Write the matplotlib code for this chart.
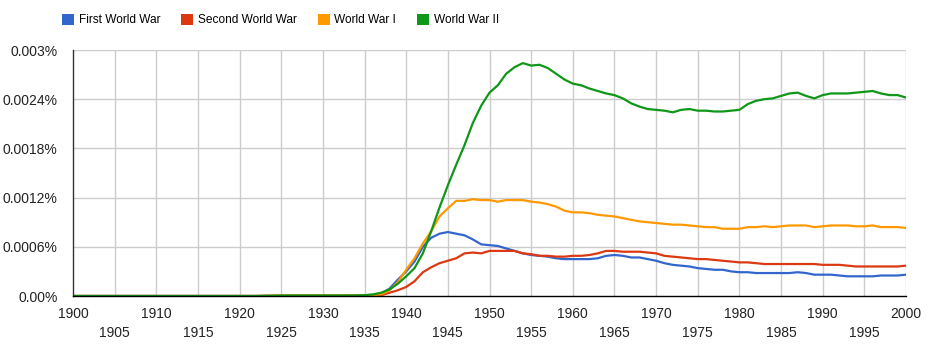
import numpy as np
import matplotlib
matplotlib.use("Agg")
import matplotlib.pyplot as plt
from matplotlib.patches import Patch

plt.rcParams['font.family'] = ['Liberation Sans', 'DejaVu Sans']

years = np.arange(1900, 2001)

series_names = ["First World War", "Second World War", "World War I", "World War II"]
series_colors = ["#3366cc", "#dc3912", "#ff9900", "#109618"]

first_world_war = [
    0, 0, 0, 0, 0, 0, 0, 0, 0, 0,
    0, 0, 0, 0, 0, 0, 0, 0, 0, 0,
    0, 0, 0, 0.000001, 0.000002, 0.000003, 0.000003, 0.000003, 0.000003, 0.000003,
    0.000004, 0.000004, 0.000004, 0.000004, 0.000004, 0.000005, 0.00001, 0.00003, 0.00009, 0.0002,
    0.0003, 0.00042, 0.0006, 0.00071, 0.00076, 0.00078, 0.00076, 0.00074, 0.00069, 0.00063,
    0.00062, 0.00061, 0.00058, 0.00055, 0.00052, 0.0005, 0.00049, 0.00048, 0.00046, 0.00045,
    0.00045, 0.00045, 0.00045, 0.00046, 0.00049, 0.0005, 0.00049, 0.00047, 0.00047, 0.00045,
    0.00043, 0.0004, 0.00038, 0.00037, 0.00036, 0.00034, 0.00033, 0.00032, 0.00032, 0.0003,
    0.00029, 0.00029, 0.00028, 0.00028, 0.00028, 0.00028, 0.00028, 0.00029, 0.00028, 0.00026,
    0.00026, 0.00026, 0.00025, 0.00024, 0.00024, 0.00024, 0.00024, 0.00025, 0.00025, 0.00025,
    0.00026,
]

second_world_war = [
    0, 0, 0, 0, 0, 0, 0, 0, 0, 0,
    0, 0, 0, 0, 0, 0, 0, 0, 0, 0,
    0, 0, 0, 0.000001, 0.000002, 0.000003, 0.000003, 0.000003, 0.000003, 0.000003,
    0.000003, 0.000003, 0.000003, 0.000003, 0.000003, 0.000004, 0.000005, 0.00001, 0.00004, 0.00007,
    0.00011, 0.00018, 0.00029, 0.00035, 0.0004, 0.00043, 0.00046, 0.00052, 0.00053, 0.00052,
    0.00055, 0.00055, 0.00055, 0.00055, 0.00052, 0.00051, 0.00049, 0.00049, 0.00048, 0.00048,
    0.00049, 0.00049, 0.0005, 0.00052, 0.00055, 0.00055, 0.00054, 0.00054, 0.00054, 0.00053,
    0.00052, 0.00049, 0.00048, 0.00047, 0.00046, 0.00045, 0.00045, 0.00044, 0.00043, 0.00042,
    0.00041, 0.00041, 0.0004, 0.00039, 0.00039, 0.00039, 0.00039, 0.00039, 0.00039, 0.00039,
    0.00038, 0.00038, 0.00038, 0.00037, 0.00036, 0.00036, 0.00036, 0.00036, 0.00036, 0.00036,
    0.00037,
]

world_war_i = [
    0, 0, 0, 0, 0, 0, 0, 0, 0, 0,
    0, 0, 0, 0, 0, 0, 0, 0, 0, 0,
    0, 0, 0, 0.000002, 0.000004, 0.000006, 0.000008, 0.000008, 0.000008, 0.000008,
    0.000008, 0.000008, 0.000008, 0.000008, 0.000008, 0.000008, 0.00001, 0.00002, 0.00007, 0.00017,
    0.00032, 0.00046, 0.00064, 0.00079, 0.00097, 0.00107, 0.00116, 0.00116, 0.00118, 0.00117,
    0.00117, 0.00115, 0.00117, 0.00117, 0.00117, 0.00115, 0.00114, 0.00112, 0.00109, 0.00104,
    0.00102, 0.00102, 0.00101, 0.00099, 0.00098, 0.00097, 0.00095, 0.00093, 0.00091, 0.0009,
    0.00089, 0.00088, 0.00087, 0.00087, 0.00086, 0.00085, 0.00084, 0.00084, 0.00082, 0.00082,
    0.00082, 0.00084, 0.00084, 0.00085, 0.00084, 0.00085, 0.00086, 0.00086, 0.00086, 0.00084,
    0.00085, 0.00086, 0.00086, 0.00086, 0.00085, 0.00085, 0.00086, 0.00084, 0.00084, 0.00084,
    0.00083,
]

world_war_ii = [
    0, 0, 0, 0, 0, 0, 0, 0, 0, 0,
    0, 0, 0, 0, 0, 0, 0, 0, 0, 0,
    0, 0, 0, 0.000002, 0.000003, 0.000005, 0.000006, 0.000006, 0.000006, 0.000006,
    0.000006, 0.000006, 0.000006, 0.000006, 0.000007, 0.00001, 0.00002, 0.00004, 0.00008, 0.00015,
    0.00024, 0.00034, 0.00052, 0.00079, 0.00108, 0.00135, 0.0016, 0.00184, 0.00211, 0.00232,
    0.00248, 0.00257, 0.00271, 0.00279, 0.00284, 0.00281, 0.00282, 0.00278, 0.00271, 0.00264,
    0.00259, 0.00257, 0.00253, 0.0025, 0.00247, 0.00245, 0.00241, 0.00235, 0.00231, 0.00228,
    0.00227, 0.00226, 0.00224, 0.00227, 0.00228, 0.00226, 0.00226, 0.00225, 0.00225, 0.00226,
    0.00227, 0.00234, 0.00238, 0.0024, 0.00241, 0.00244, 0.00247, 0.00248, 0.00244, 0.00241,
    0.00245, 0.00247, 0.00247, 0.00247, 0.00248, 0.00249, 0.0025, 0.00247, 0.00245, 0.00245,
    0.00242,
]

series_values = [first_world_war, second_world_war, world_war_i, world_war_ii]

y_ticks = [0, 0.0006, 0.0012, 0.0018, 0.0024, 0.003]
y_tick_labels = ["0.00%", "0.0006%", "0.0012%", "0.0018%", "0.0024%", "0.003%"]
x_major_ticks = list(range(1900, 2001, 10))
x_minor_ticks = list(range(1905, 2000, 10))

fig = plt.figure(figsize=(9.3, 3.48), dpi=100)
ax = fig.add_axes([73/930, 1-296/348, (906-73)/930, (296-50)/348])

for name, vals, col in zip(series_names, series_values, series_colors):
    ax.plot(years, vals, color=col, lw=1.6, solid_joinstyle='round', zorder=3)

ax.set_xlim(1900, 2000)
ax.set_ylim(0, 0.003)

# grid
for x in range(1905, 2001, 5):
    ax.axvline(x, color='#cccccc', lw=1, zorder=1)
for y in y_ticks[1:]:
    ax.axhline(y, color='#cccccc', lw=1, zorder=1)

for s in ['top', 'right']:
    ax.spines[s].set_visible(False)
ax.spines['left'].set_color('#333333')
ax.spines['bottom'].set_color('#000000')
ax.spines['left'].set_linewidth(1)
ax.spines['bottom'].set_linewidth(1)
ax.spines['left'].set_zorder(4)
ax.spines['bottom'].set_zorder(4)

ax.set_yticks(y_ticks)
ax.set_yticklabels(y_tick_labels)
ax.set_xticks(x_major_ticks)
ax.set_xticklabels([str(v) for v in x_major_ticks])
ax.set_xticks(x_minor_ticks, minor=True)
ax.set_xticklabels([str(v) for v in x_minor_ticks], minor=True)

ax.tick_params(axis='y', length=0, pad=11, labelsize=10, labelcolor='#222222')
ax.tick_params(axis='x', which='major', length=0, pad=8, labelsize=10, labelcolor='#222222')
ax.tick_params(axis='x', which='minor', length=0, pad=21.5, labelsize=10, labelcolor='#222222')

handles = [Patch(facecolor=c, edgecolor='none', label=n) for n, c in zip(series_names, series_colors)]
fig.legend(handles=handles, loc='center left', bbox_to_anchor=(62/930, 1-20/348),
           ncol=4, frameon=False, fontsize=8.6, handlelength=1.0, handleheight=1.15,
           handletextpad=0.4, columnspacing=1.75, borderpad=0, borderaxespad=0)

fig.savefig('out.png', dpi=100, facecolor='white')
